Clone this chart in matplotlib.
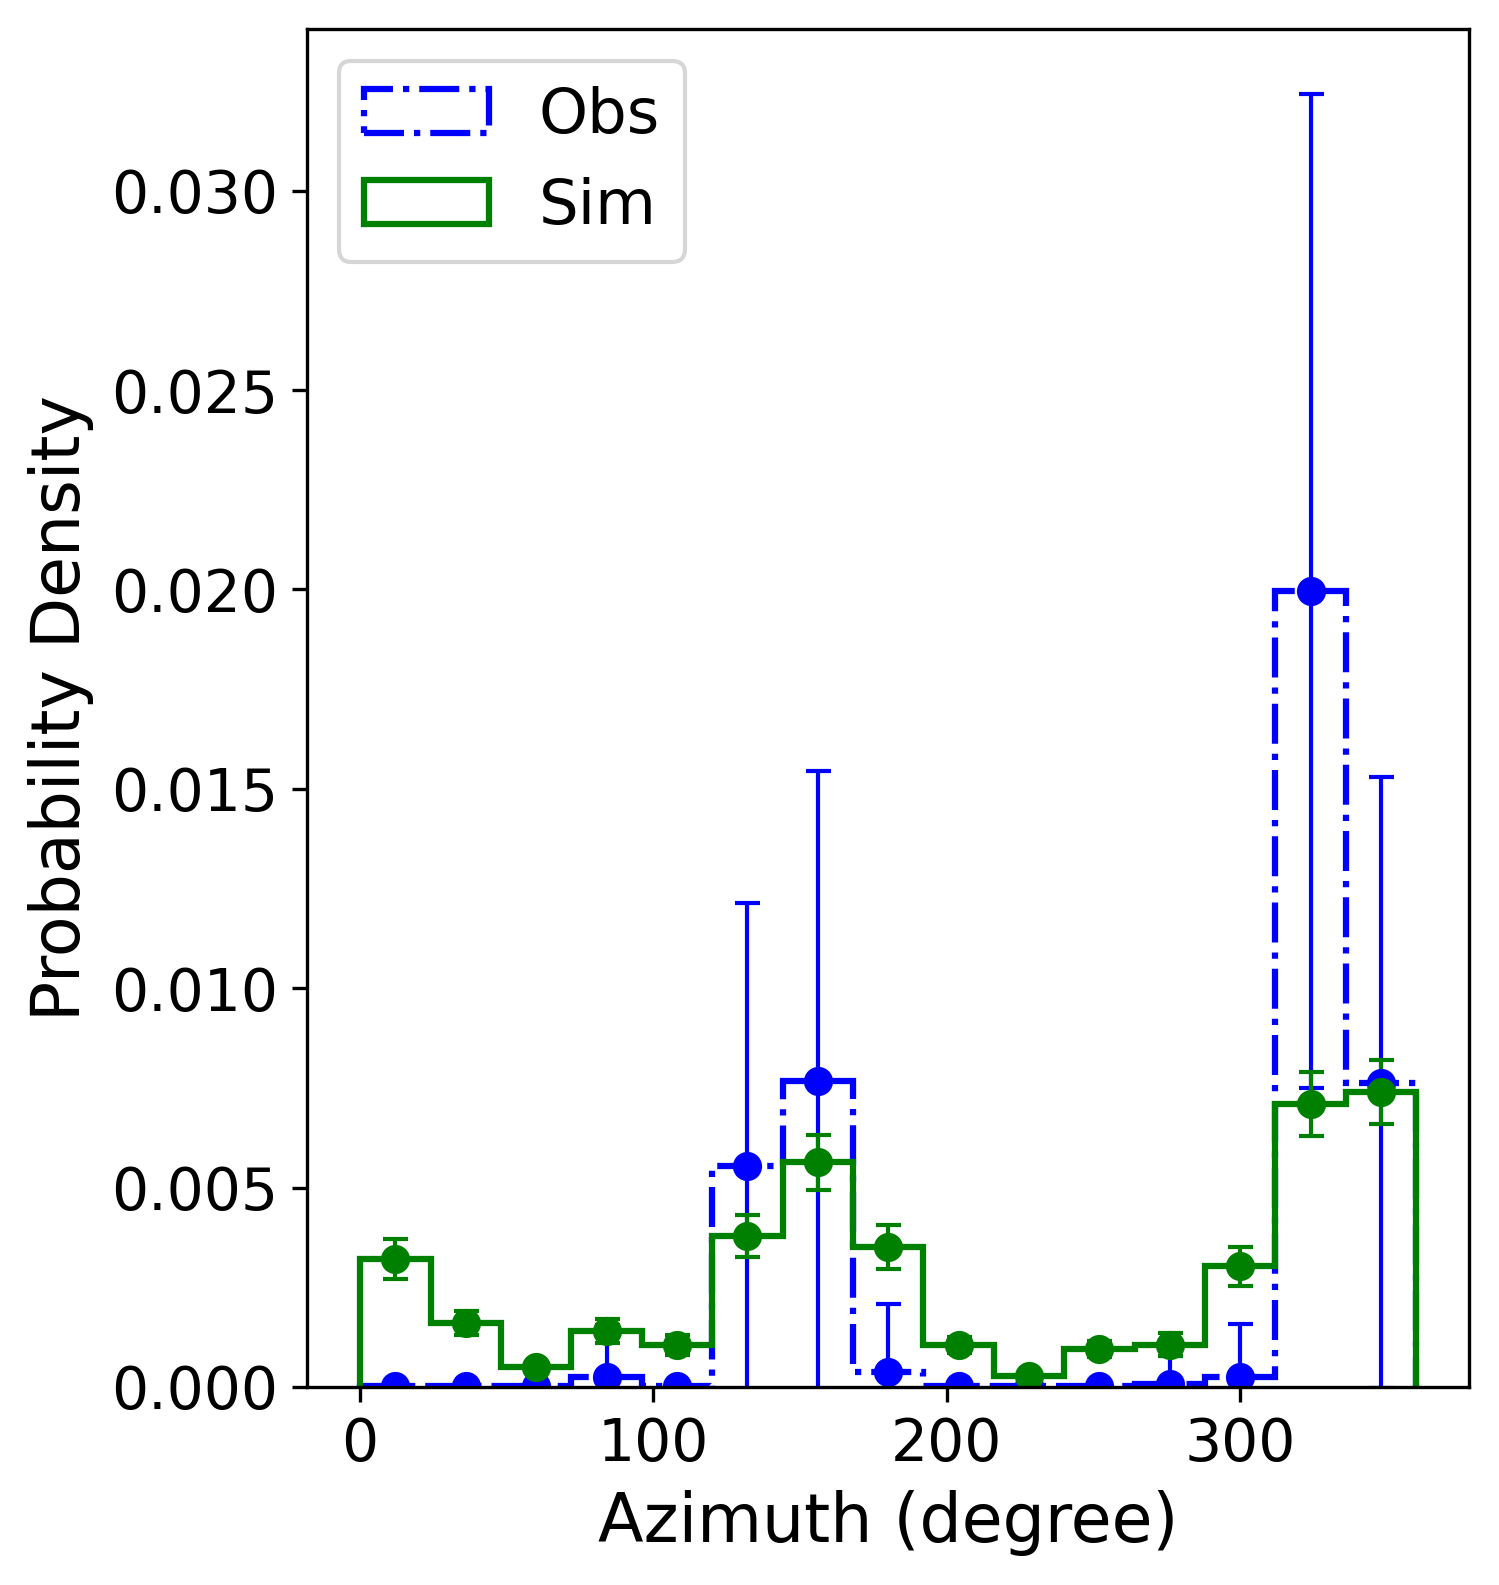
import numpy as np
import matplotlib
matplotlib.use("Agg")
import matplotlib.pyplot as plt

# 24-degree azimuth bins, 0..360
bin_edges = [0, 24, 48, 72, 96, 120, 144, 168, 192, 216, 240, 264, 288, 312, 336, 360]
bin_centers = [12, 36, 60, 84, 108, 132, 156, 180, 204, 228, 252, 276, 300, 324, 348]

obs_density = [0.00002, 0.00002, 0.00002, 0.00025, 0.00002, 0.00553, 0.00768, 0.00038,
               0.00002, 0.00002, 0.00002, 0.00008, 0.00025, 0.01996, 0.00763]
obs_err = [0.0, 0.0, 0.0, 0.0013, 0.0, 0.0066, 0.00776, 0.0017,
           0.0, 0.0, 0.0, 0.0007, 0.00132, 0.01247, 0.00766]

sim_density = [0.00320, 0.00160, 0.00051, 0.00139, 0.00106, 0.00378, 0.00563, 0.00350,
               0.00106, 0.00028, 0.00096, 0.00106, 0.00302, 0.00710, 0.00740]
sim_err = [0.00050, 0.00030, 0.00010, 0.00030, 0.00025, 0.00052, 0.00070, 0.00055,
           0.00020, 0.00010, 0.00020, 0.00028, 0.00050, 0.00080, 0.00080]

fig = plt.figure(figsize=(1499 / 300, 1585 / 300), dpi=300)
ax = fig.add_axes([0.205, 0.125, 0.775, 0.8565])

ax.hist(bin_centers, bins=bin_edges, weights=obs_density, histtype='step',
        color='blue', linestyle='-.', linewidth=1.5, label='Obs')
ax.hist(bin_centers, bins=bin_edges, weights=sim_density, histtype='step',
        color='green', linestyle='-', linewidth=1.5, label='Sim')

ax.errorbar(bin_centers, obs_density, yerr=obs_err, fmt='o', color='blue',
            markersize=6, elinewidth=1.0, capsize=3)
ax.errorbar(bin_centers, sim_density, yerr=sim_err, fmt='o', color='green',
            markersize=6, elinewidth=1.0, capsize=3)

ax.set_ylim(0, 0.03405)
ax.set_xlabel('Azimuth (degree)', fontsize=16)
ax.set_ylabel('Probability Density', fontsize=16)
ax.tick_params(labelsize=14)
ax.legend(loc='upper left', fontsize=15)

plt.savefig("out.png", dpi=300)
